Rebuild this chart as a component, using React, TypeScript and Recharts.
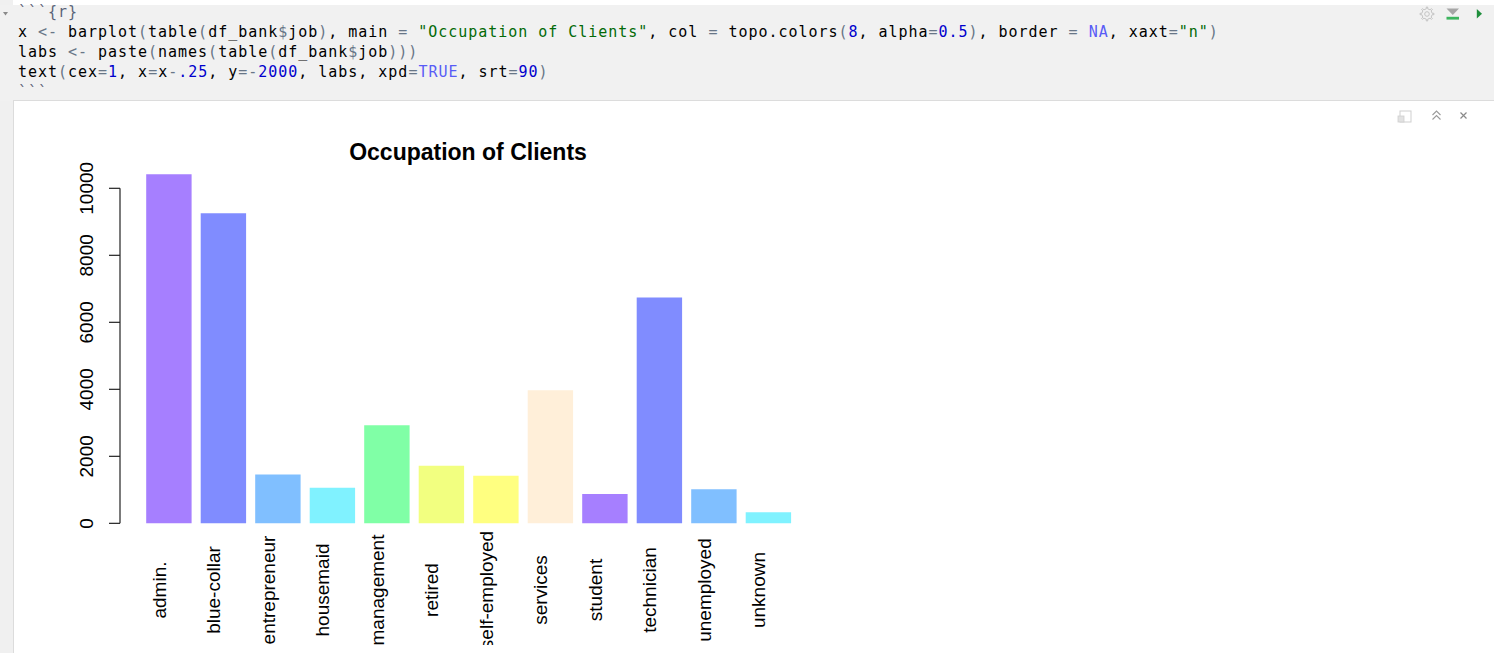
import React from 'react';
import { BarChart, Bar, XAxis, YAxis, Cell, ReferenceArea } from 'recharts';

// ---- data ----
const jobs = ['admin.', 'blue-collar', 'entrepreneur', 'housemaid', 'management', 'retired', 'self-employed', 'services', 'student', 'technician', 'unemployed', 'unknown'];
const counts = [10422, 9254, 1456, 1060, 2924, 1720, 1421, 3969, 875, 6743, 1014, 330];
const topoColorsAlpha = ['#A67FFF', '#808CFF', '#80BFFF', '#80F2FF', '#80FFA6', '#F2FF80', '#FFFF80', '#FFEFD9'];
const yTicks = [0, 2000, 4000, 6000, 8000, 10000];
const yDomain = [-417, 10839];
const chartTitle = 'Occupation of Clients';

const codeLines = [
  '```{r}',
  'x <- barplot(table(df_bank$job), main = "Occupation of Clients", col = topo.colors(8, alpha=0.5), border = NA, xaxt="n")',
  'labs <- paste(names(table(df_bank$job)))',
  'text(cex=1, x=x-.25, y=-2000, labs, xpd=TRUE, srt=90)',
  '```',
];

const data = jobs.map((job, i) => ({ job, count: counts[i] }));

const FONT = '"Liberation Sans", Arial, Helvetica, sans-serif';
const MONO = '"DejaVu Sans Mono", "Liberation Mono", monospace';

const C_STR = '#036A07';
const C_CONST = '#585CF6';
const C_NUM = '#0000CD';
const C_OP = '#687687';
const C_CHUNK = '#5a6378';

const TOKEN_RE = /"[^"]*"|\b(?:TRUE|NA)\b|\.?\d+(?:\.\d+)?|<-|[=$()\-]|\s+|[A-Za-z_][A-Za-z_.]*|./g;

function tokenColor(t: string): string {
  if (t.startsWith('"')) return C_STR;
  if (t === 'TRUE' || t === 'NA') return C_CONST;
  if (/^\.?\d/.test(t)) return C_NUM;
  if (t === '<-' || /^[=$()\-]$/.test(t)) return C_OP;
  return '#000000';
}

function CodeLine({ line, top }: { line: string; top: number }) {
  const isChunk = line.startsWith('```');
  const toks = isChunk ? [line] : line.match(TOKEN_RE) || [];
  return (
    <div
      style={{
        position: 'absolute',
        left: 18,
        top,
        height: 20,
        lineHeight: '20px',
        fontFamily: MONO,
        fontSize: 15,
        letterSpacing: '0.97px',
        whiteSpace: 'pre',
      }}
    >
      {toks.map((t, i) => (
        <span key={i} style={{ color: isChunk ? C_CHUNK : tokenColor(t) }}>
          {t}
        </span>
      ))}
    </div>
  );
}

function gearPath(cx: number, cy: number, rOut: number, rIn: number, teeth: number): string {
  const pts: string[] = [];
  const step = (Math.PI * 2) / teeth;
  for (let i = 0; i < teeth; i++) {
    const a0 = i * step;
    const angles = [
      [a0 - step * 0.18, rIn],
      [a0 - step * 0.12, rOut],
      [a0 + step * 0.12, rOut],
      [a0 + step * 0.18, rIn],
    ];
    angles.forEach(([a, r]) => pts.push(`${(cx + r * Math.cos(a)).toFixed(2)},${(cy + r * Math.sin(a)).toFixed(2)}`));
  }
  return 'M' + pts.join(' L') + ' Z';
}

const XTick = (props: any) => {
  const { x, y, payload } = props;
  const cx = x - 9;
  const cy = y + 52.7;
  return (
    <text
      x={cx}
      y={cy}
      transform={`rotate(-90, ${cx}, ${cy})`}
      textAnchor="middle"
      dominantBaseline="central"
      fontFamily={FONT}
      fontSize={19}
      fill="#000"
    >
      {payload.value}
    </text>
  );
};

const YTick = (props: any) => {
  const { x, y, payload } = props;
  const tx = x - 27;
  return (
    <g>
      <line x1={x - 11} y1={y} x2={x} y2={y} stroke="#222" strokeWidth={1.2} />
      <text
        x={tx}
        y={y}
        transform={`rotate(-90, ${tx}, ${y})`}
        textAnchor="middle"
        fontFamily={FONT}
        fontSize={19}
        fill="#000"
      >
        {payload.value}
      </text>
    </g>
  );
};

const AxisLineShape = (props: any) => {
  const { x, y, height } = props;
  return <line x1={x} y1={y} x2={x} y2={y + height} stroke="#222" strokeWidth={1.2} />;
};

export default function App() {
  return (
    <div
      style={{
        position: 'absolute',
        left: 0,
        top: 0,
        width: 1494,
        height: 653,
        background: '#ffffff',
        overflow: 'hidden',
      }}
    >
      {/* gutter */}
      <div style={{ position: 'absolute', left: 0, top: 0, width: 13, height: 653, background: '#f0f0f0' }} />
      {/* code chunk background */}
      <div style={{ position: 'absolute', left: 0, top: 5, width: 1494, height: 96, background: '#f1f1f1' }} />
      {/* output panel */}
      <div
        style={{
          position: 'absolute',
          left: 13,
          top: 100,
          width: 1481,
          height: 553,
          background: '#ffffff',
          borderTop: '1px solid #dcdcdc',
          borderLeft: '1px solid #dcdcdc',
          boxSizing: 'border-box',
        }}
      />

      {codeLines.map((l, i) => (
        <CodeLine key={i} line={l} top={2 + i * 20} />
      ))}

      <div style={{ position: 'absolute', left: 0, top: 0 }}>
        <BarChart
          width={830}
          height={645}
          data={data}
          margin={{ top: 160.2, right: 14, bottom: 7.7, left: 20 }}
        >
          <XAxis
            dataKey="job"
            type="category"
            padding={{ left: 21.2, right: 20.8 }}
            height={100}
            axisLine={false}
            tickLine={false}
            tickSize={0}
            tickMargin={0}
            interval={0}
            tick={<XTick />}
          />
          <XAxis xAxisId="frame" type="number" domain={[0, 1]} hide />
          <YAxis
            domain={yDomain}
            ticks={yTicks}
            allowDataOverflow
            axisLine={false}
            tickLine={false}
            tickSize={0}
            tickMargin={0}
            width={100}
            interval={0}
            tick={<YTick />}
          />
          <ReferenceArea xAxisId="frame" y1={0} y2={10000} ifOverflow="visible" shape={AxisLineShape} />
          <Bar dataKey="count" barSize={45.4} isAnimationActive={false}>
            {data.map((d, i) => (
              <Cell key={d.job} fill={topoColorsAlpha[i % topoColorsAlpha.length]} />
            ))}
          </Bar>
        </BarChart>
      </div>

      {/* chrome & title overlay */}
      <svg width={1494} height={653} style={{ position: 'absolute', left: 0, top: 0, pointerEvents: 'none' }}>
        {/* fold arrow */}
        <path d="M3,12 L8,12 L5.5,15.5 Z" fill="#8a8a8a" />
        {/* gear */}
        <path d={gearPath(1427, 14, 7, 5.2, 8)} fill="none" stroke="#c4c4c4" strokeWidth={1} />
        <circle cx={1427} cy={14} r={2.3} fill="none" stroke="#c4c4c4" strokeWidth={1} />
        {/* run chunks above */}
        <path d="M1446.5,8.5 L1459,8.5 L1452.75,15 Z" fill="#a6a6a6" />
        <rect x={1446.5} y={16.8} width={12.5} height={2.8} fill="#3cb55e" />
        {/* run chunk */}
        <path d="M1476.8,9 L1482,13.8 L1476.8,18.6 Z" fill="#1f8f3c" />
        {/* panel icons */}
        <rect x={1400} y={111} width={11} height={11} fill="none" stroke="#cfcfcf" strokeWidth={1} />
        <rect x={1398} y={116} width={6} height={6} fill="#e2e2e2" stroke="#cfcfcf" strokeWidth={0.8} />
        <path d="M1432.5,115 L1436.5,111 L1440.5,115 M1432.5,119.5 L1436.5,115.5 L1440.5,119.5" fill="none" stroke="#9a9a9a" strokeWidth={1.1} />
        <path d="M1460.5,112.5 L1466.5,118.5 M1466.5,112.5 L1460.5,118.5" fill="none" stroke="#8a8a8a" strokeWidth={1.2} />
        {/* chart title */}
        <text x={468} y={160} textAnchor="middle" fontFamily={FONT} fontWeight="bold" fontSize={23} fill="#000">
          {chartTitle}
        </text>
      </svg>
    </div>
  );
}
